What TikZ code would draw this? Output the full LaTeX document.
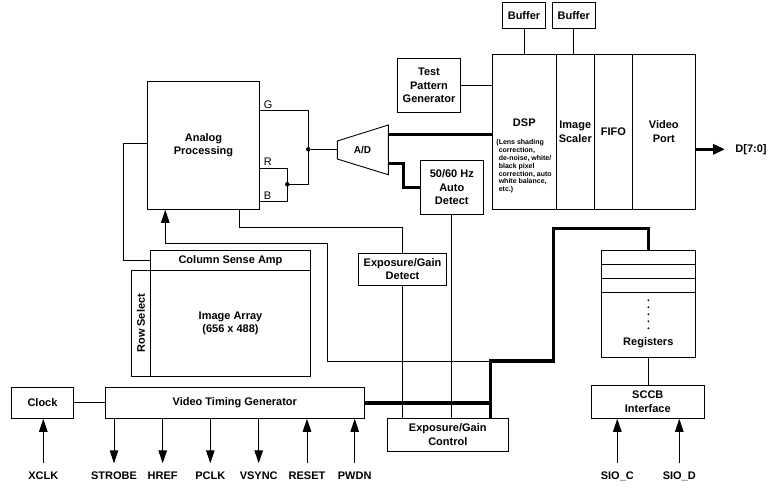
\documentclass[tikz,border=0pt]{standalone}
\usepackage{fontspec}
\setmainfont{Liberation Sans}
\usetikzlibrary{arrows.meta}

\begin{document}
\begin{tikzpicture}[x=1pt, y=-1pt, line width=0.9pt]

\tikzset{block/.style = {draw, rectangle, align=center, inner sep=0pt, font=\bfseries\fontsize{11}{13.5}\selectfont}}
\tikzset{caption/.style = {align=center, inner sep=0pt, font=\bfseries\fontsize{11}{13.5}\selectfont}}
\tikzset{pin/.style = {anchor=north, inner xsep=0pt, inner ysep=8.5pt, font=\bfseries\fontsize{11}{13.5}\selectfont}}
\tikzset{wire/.style = {->,> = {Triangle[length=13pt,width=8.5pt]}}}
\tikzset{bus/.style = {line width=3.5pt}}
\tikzset{junction/.style = {circle, fill, inner sep=0pt, minimum size=4.5pt}}

\useasboundingbox (0,0) rectangle (779,493);

%blocks
\node[block, minimum width=112.4pt, minimum height=128.3pt] (ana) at (203.5,145.2) {Analog\\Processing};
\node[block, minimum width=63.4pt, minimum height=54pt] (tpg) at (429,85.3) {Test\\Pattern\\Generator};
\node[block, minimum width=63pt, minimum height=54pt] (hz) at (451.8,187.3) {50/60 Hz\\Auto\\Detect};
\node[block, minimum width=64pt, minimum height=155pt] (dsp) at (524.3,131.8) {};
\node[block, minimum width=38pt, minimum height=155pt] (scal) at (575.3,131.8) {Image\\Scaler};
\node[block, minimum width=38pt, minimum height=155pt] (fifo) at (613.3,131.8) {FIFO};
\node[block, minimum width=63pt, minimum height=155pt] (vport) at (663.8,131.8) {Video\\Port};
\node[block, minimum width=43.4pt, minimum height=26pt] (buf1) at (524,15.3) {Buffer};
\node[block, minimum width=43pt, minimum height=26pt] (buf2) at (573.8,15.3) {Buffer};
\node[block, minimum width=160.4pt, minimum height=20pt] (csa) at (230.5,260.3) {Column Sense Amp};
\node[block, minimum width=160.4pt, minimum height=106pt] (arr) at (230.5,323.3) {Image Array\\(656 x 488)};
\node[block, minimum width=18.6pt, minimum height=106pt] (rsel) at (141,323.3) {};
\node[block, minimum width=88.4pt, minimum height=32pt] (egd) at (402.5,269.3) {Exposure/Gain\\Detect};
\node[block, minimum width=121pt, minimum height=33pt] (egc) at (447.8,434.8) {Exposure/Gain\\Control};
\node[block, minimum width=61.6pt, minimum height=31pt] (clk) at (42.5,402.8) {Clock};
\node[block, minimum width=259pt, minimum height=31pt] (vtg) at (234.8,402.8) {Video Timing Generator};
\node[block, minimum width=94pt, minimum height=107.3pt] (reg) at (648.3,303.7) {};
\node[block, minimum width=113pt, minimum height=33pt] (sccb) at (647.8,401.8) {SCCB\\Interface};

%texts inside blocks
\node[caption, rotate=90] (rseltext) at (rsel) {Row Select};
\node[caption] (regtext) at (648.3,343) {Registers};
\node[caption] (dsptext) at (524.3,122.5) {DSP};
\node[anchor=north west, align=left, inner sep=0pt, font=\bfseries\fontsize{7}{7.8}\selectfont] (dspnote) at (496,139.3)
  {(Lens shading\\\hphantom{(}correction,\\\hphantom{(}de-noise, white/\\\hphantom{(}black pixel\\\hphantom{(}correction, auto\\\hphantom{(}white balance,\\\hphantom{(}etc.)};

%A/D
\coordinate (adin) at (337.3,149.3);
\coordinate (adout1) at (388.3,134.3);
\coordinate (adout2) at (388.3,163.3);
\draw (337.3,141) -- (388.3,125) -- (388.3,174.7) -- (337.3,159) -- cycle;
\node[caption, font=\bfseries\fontsize{10}{12}\selectfont] (ad) at (362.5,149.5) {A/D};

%G R B
\node[anchor=base west, inner sep=0pt, font=\fontsize{11}{13}\selectfont] (gl) at (263.5,108.3) {G};
\node[anchor=base west, inner sep=0pt, font=\fontsize{11}{13}\selectfont] (rl) at (263.5,165) {R};
\node[anchor=base west, inner sep=0pt, font=\fontsize{11}{13}\selectfont] (bl) at (263.5,199.3) {B};
\node[junction] (jg) at (308.3,149.3) {};
\node[junction] (jrb) at (287.3,184.3) {};

%pins
\node[pin] (xclk) at (43.3,463.3) {XCLK};
\node[pin] (strobe) at (114,463.3) {STROBE};
\node[pin] (href) at (162.7,463.3) {HREF};
\node[pin] (pclk) at (210.3,463.3) {PCLK};
\node[pin] (vsync) at (258.7,463.3) {VSYNC};
\node[pin] (reset) at (307,463.3) {RESET};
\node[pin] (pwdn) at (354.7,463.3) {PWDN};
\node[pin] (sioc) at (617.3,463.3) {SIO\_C};
\node[pin] (siod) at (679.3,463.3) {SIO\_D};
\node[caption, anchor=west, inner xsep=10pt] (dout) at (725,149.3) {D[7:0]};

%registers
\draw ([yshift=-15.3pt]reg.north west) -- ([yshift=-15.3pt]reg.north east);
\draw ([yshift=-29.3pt]reg.north west) -- ([yshift=-29.3pt]reg.north east);
\draw ([yshift=-43.3pt]reg.north west) -- ([yshift=-43.3pt]reg.north east);
\fill (648.3,300.3) circle (1pt);
\fill (648.3,307.3) circle (1pt);
\fill (648.3,314.3) circle (1pt);
\fill (648.3,321.3) circle (1pt);
\fill (648.3,328.3) circle (1pt);

%edges
\draw ([yshift=34.9pt]ana.east) -| (jg.center) |- (jrb.center);
\draw ([yshift=-23.1pt]ana.east) -| (jrb.center) |- ([yshift=-56.1pt]ana.east);
\draw (jg) -- (adin);
\draw[bus] (adout1) -- (adout1 -| dsp.west);
\draw[bus] (adout2) -- ++(15,0) |- (hz.west);
\draw (tpg.east) -- (tpg.east -| dsp.west);
\draw (buf1.south) -- (buf1.south |- dsp.north);
\draw (buf2.south) -- (buf2.south |- scal.north);
\draw[bus, -{Triangle[length=12pt,width=10pt]}] (vport.east |- dout.west) -- (dout.west);
\draw ([yshift=1.9pt]ana.west) -- ++(-23.6,0) |- (csa.west);
\coordinate (bj) at (490.7,361);
\draw[wire] (bj) -- ++(-163.4,0) -- ++(0,-117.7) -| ([xshift=-38.2pt]ana.south);
\draw ([xshift=35.8pt]ana.south) -- ++(0,17.4) -| (egd.north);
\draw (egd.south) -- (egd.south |- egc.north);
\draw (hz.south) -- (hz.south |- egc.north);
\draw[bus] (reg.north) -- ++(0,-21.3) -- ++(-95,0) |- (bj) -- (bj |- egc.north);
\draw[bus] (vtg.east) -- (vtg.east -| bj);
\draw (clk.east) -- (vtg.west);
\draw (reg.south) -- (reg.south |- sccb.north);
\draw[wire] (xclk.north) -- (xclk.north |- clk.south);
\draw[wire] (strobe.north |- vtg.south) -- (strobe.north);
\draw[wire] (href.north |- vtg.south) -- (href.north);
\draw[wire] (pclk.north |- vtg.south) -- (pclk.north);
\draw[wire] (vsync.north |- vtg.south) -- (vsync.north);
\draw[wire] (reset.north) -- (reset.north |- vtg.south);
\draw[wire] (pwdn.north) -- (pwdn.north |- vtg.south);
\draw[wire] (sioc.north) -- (sioc.north |- sccb.south);
\draw[wire] (siod.north) -- (siod.north |- sccb.south);

\end{tikzpicture}
\end{document}
